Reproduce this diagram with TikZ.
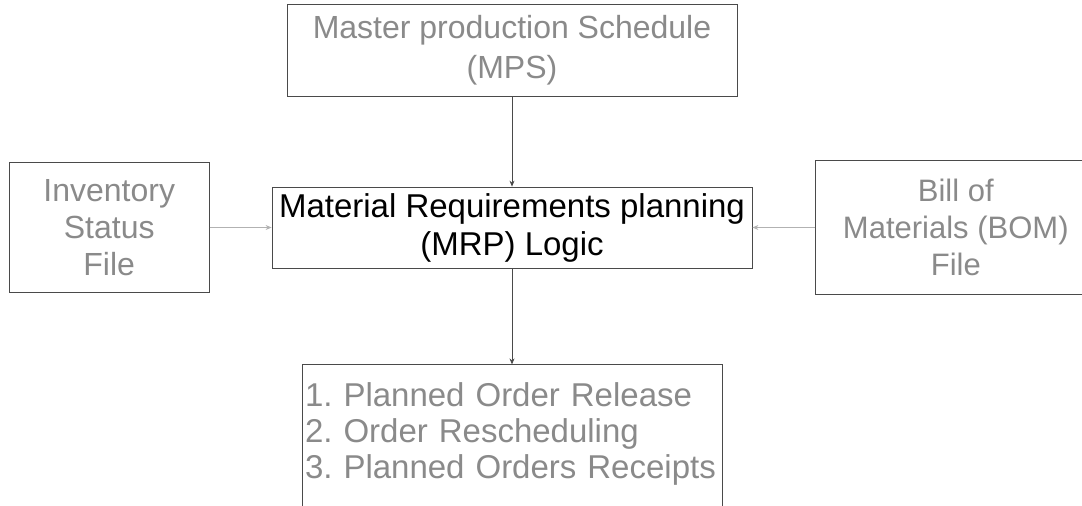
\documentclass[tikz,border=0pt]{standalone}
\usepackage{fontspec}
\setmainfont{Liberation Sans}
\usetikzlibrary{arrows.meta, positioning}
\definecolor{boxline}{HTML}{4A4A4A}
\definecolor{fadetext}{HTML}{8A8A8A}
\frenchspacing
\tikzset{
    block/.style={rectangle, draw=boxline, line width=0.8pt, align=center, text=fadetext, inner sep=3pt},
    blockmain/.style={block, text=black, font=\fontsize{33}{38}\selectfont},
    blockside/.style={block, font=\fontsize{32}{37}\selectfont},
    blocklist/.style={block, align=left, font=\fontsize{33}{36}\selectfont},
    arr/.style={-{Stealth[length=6pt, width=5pt]}, line width=0.7pt, boxline},
    arrsoft/.style={arr, gray!60},
}
\begin{document}
\begin{tikzpicture}[x=1pt, y=-1pt]

\useasboundingbox (0,0) rectangle (1082,506);
\clip (0,0) rectangle (1082,506);

% ── MRP logic (centre) ──
\node[blockmain, minimum width=480pt, minimum height=81pt] (mrp) at (512, 227.5)
    {Material Requirements planning\\(MRP) Logic};

% ── Inputs ──
\node[blockside, minimum width=450pt, minimum height=92pt, font=\fontsize{32}{40}\selectfont, above=90pt of mrp] (mps)
    {Master production Schedule\\(MPS)};
\node[blockside, minimum width=200pt, minimum height=130pt, left=62pt of mrp] (inv)
    {Inventory\\Status\\File};
\node[blockside, minimum width=280pt, minimum height=134pt, font=\fontsize{31}{37}\selectfont, right=63pt of mrp] (bom)
    {Bill of\\Materials (BOM)\\File};

% ── Output (runs off the bottom) ──
\node[blocklist, text width=414pt, inner ysep=18pt, text depth=130pt, below=96pt of mrp] (out)
    {1. Planned Order Release\\2. Order Rescheduling\\3. Planned Orders Receipts};

% ── Connectors ──
\draw[arr] (mps) -- (mrp);
\draw[arrsoft] (inv) -- (mrp);
\draw[arrsoft] (bom) -- (mrp);
\draw[arr] (mrp) -- (out);

\end{tikzpicture}
\end{document}
